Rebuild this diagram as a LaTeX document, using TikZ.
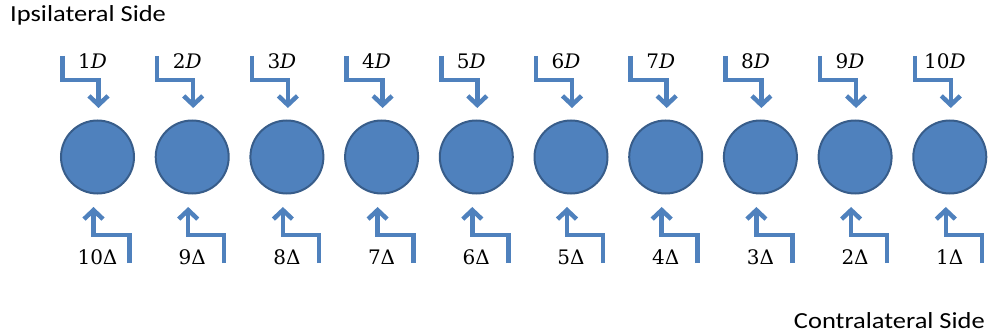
\documentclass[tikz,border=0pt]{standalone}
\usepackage{fontspec}
\newfontfamily\sidefont{Carlito}
\newfontfamily\feedfont{DejaVu Serif}
\usetikzlibrary{arrows.meta}
\definecolor{discfill}{HTML}{4F81BD}
\definecolor{discline}{HTML}{385D8A}
\definecolor{arrowblue}{HTML}{4F81BD}
\newcommand{\sidetext}[1]{\scalebox{1.15}[1]{\sidefont\fontsize{23}{23}\selectfont #1}}
\begin{document}
\begin{tikzpicture}[x=1pt,y=-1pt,
  disc/.style={circle,fill=discfill,draw=discline,line width=2pt,minimum size=73pt,inner sep=0pt},
  feed/.style={draw=arrowblue,line width=4.5pt,miter limit=10,
    -{Straight Barb[length=9pt,width=19pt,line width=4.5pt]}},
  feedlabel/.style={anchor=base,inner sep=0pt,font=\feedfont\fontsize{20}{20}\selectfont},
  sidelabel/.style={inner sep=0pt}]
\useasboundingbox (0,0) rectangle (989,334);
\node[sidelabel,anchor=base west] (ipsi) at (10,22) {\sidetext{Ipsilateral Side}};
\node[sidelabel,anchor=base east] (contra) at (985,328) {\sidetext{Contralateral Side}};
\foreach \i/\d in {1/10,2/9,3/8,4/7,5/6,6/5,7/4,8/3,9/2,10/1}{
  \pgfmathsetmacro{\cx}{97.5+94.7*(\i-1)}
  \node[disc] (c\i) at (\cx,157) {};
  % ipsilateral feed above each disc
  \coordinate (ts\i) at (\cx-35,56);
  \coordinate (tk\i) at (\cx-35,80);
  \coordinate (tj\i) at (\cx+1,80);
  \coordinate (te\i) at (\cx+1,108);
  \draw[feed] (ts\i) -- (tk\i) -- (tj\i) -- (te\i);
  \node[feedlabel] (tl\i) at (\cx-5,69) {\i\textit{D}};
  % contralateral feed below each disc
  \coordinate (bs\i) at (\cx+32,263);
  \coordinate (bk\i) at (\cx+32,235);
  \coordinate (bj\i) at (\cx-4,235);
  \coordinate (be\i) at (\cx-4,207);
  \draw[feed] (bs\i) -- (bk\i) -- (bj\i) -- (be\i);
  \node[feedlabel] (bl\i) at (\cx,265) {\d Δ};
}
\end{tikzpicture}
\end{document}
